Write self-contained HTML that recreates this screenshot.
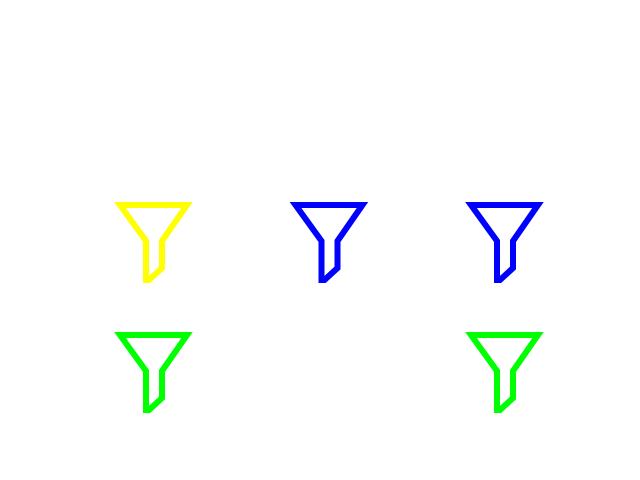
<!DOCTYPE html>
<html><head><meta charset="utf-8"><style>html,body{margin:0;padding:0;background:#fff;width:640px;height:480px;overflow:hidden}</style></head>
<body>
<svg id="chart" width="640" height="480" xmlns="http://www.w3.org/2000/svg">
<rect width="640" height="480" fill="#fff"/>
<g id="marks"></g>
</svg>
<script>
const xValues = [0, 1, 2, 0, 2];
const yValues = [1, 1, 1, 0, 0];
const colors = ["#ffff00", "#0000ff", "#0000ff", "#00ff00", "#00ff00"];
const names = ["yellow", "blue", "blue", "green", "green"];
function xScale(v){ return 115 + v * 175.5; }
function yScale(v){ return 332 - v * 130; }
const g = document.getElementById('marks');
const NS = 'http://www.w3.org/2000/svg';
for (let i = 0; i < xValues.length; i++) {
  const x = xScale(xValues[i]), y = yScale(yValues[i]);
  const p = document.createElementNS(NS, 'path');
  const d = [[5,3],[72,3],[47,39],[47,66],[34,78],[31,78],[31,39]]
    .map((q, k) => (k ? 'L' : 'M') + (x + q[0]) + ',' + (y + q[1])).join(' ') + ' Z';
  p.setAttribute('d', d);
  p.setAttribute('fill', 'none');
  p.setAttribute('stroke', colors[i]);
  p.setAttribute('stroke-width', '6');
  p.setAttribute('stroke-linejoin', 'miter');
  
  
  g.appendChild(p);
}
</script>
</body></html>
